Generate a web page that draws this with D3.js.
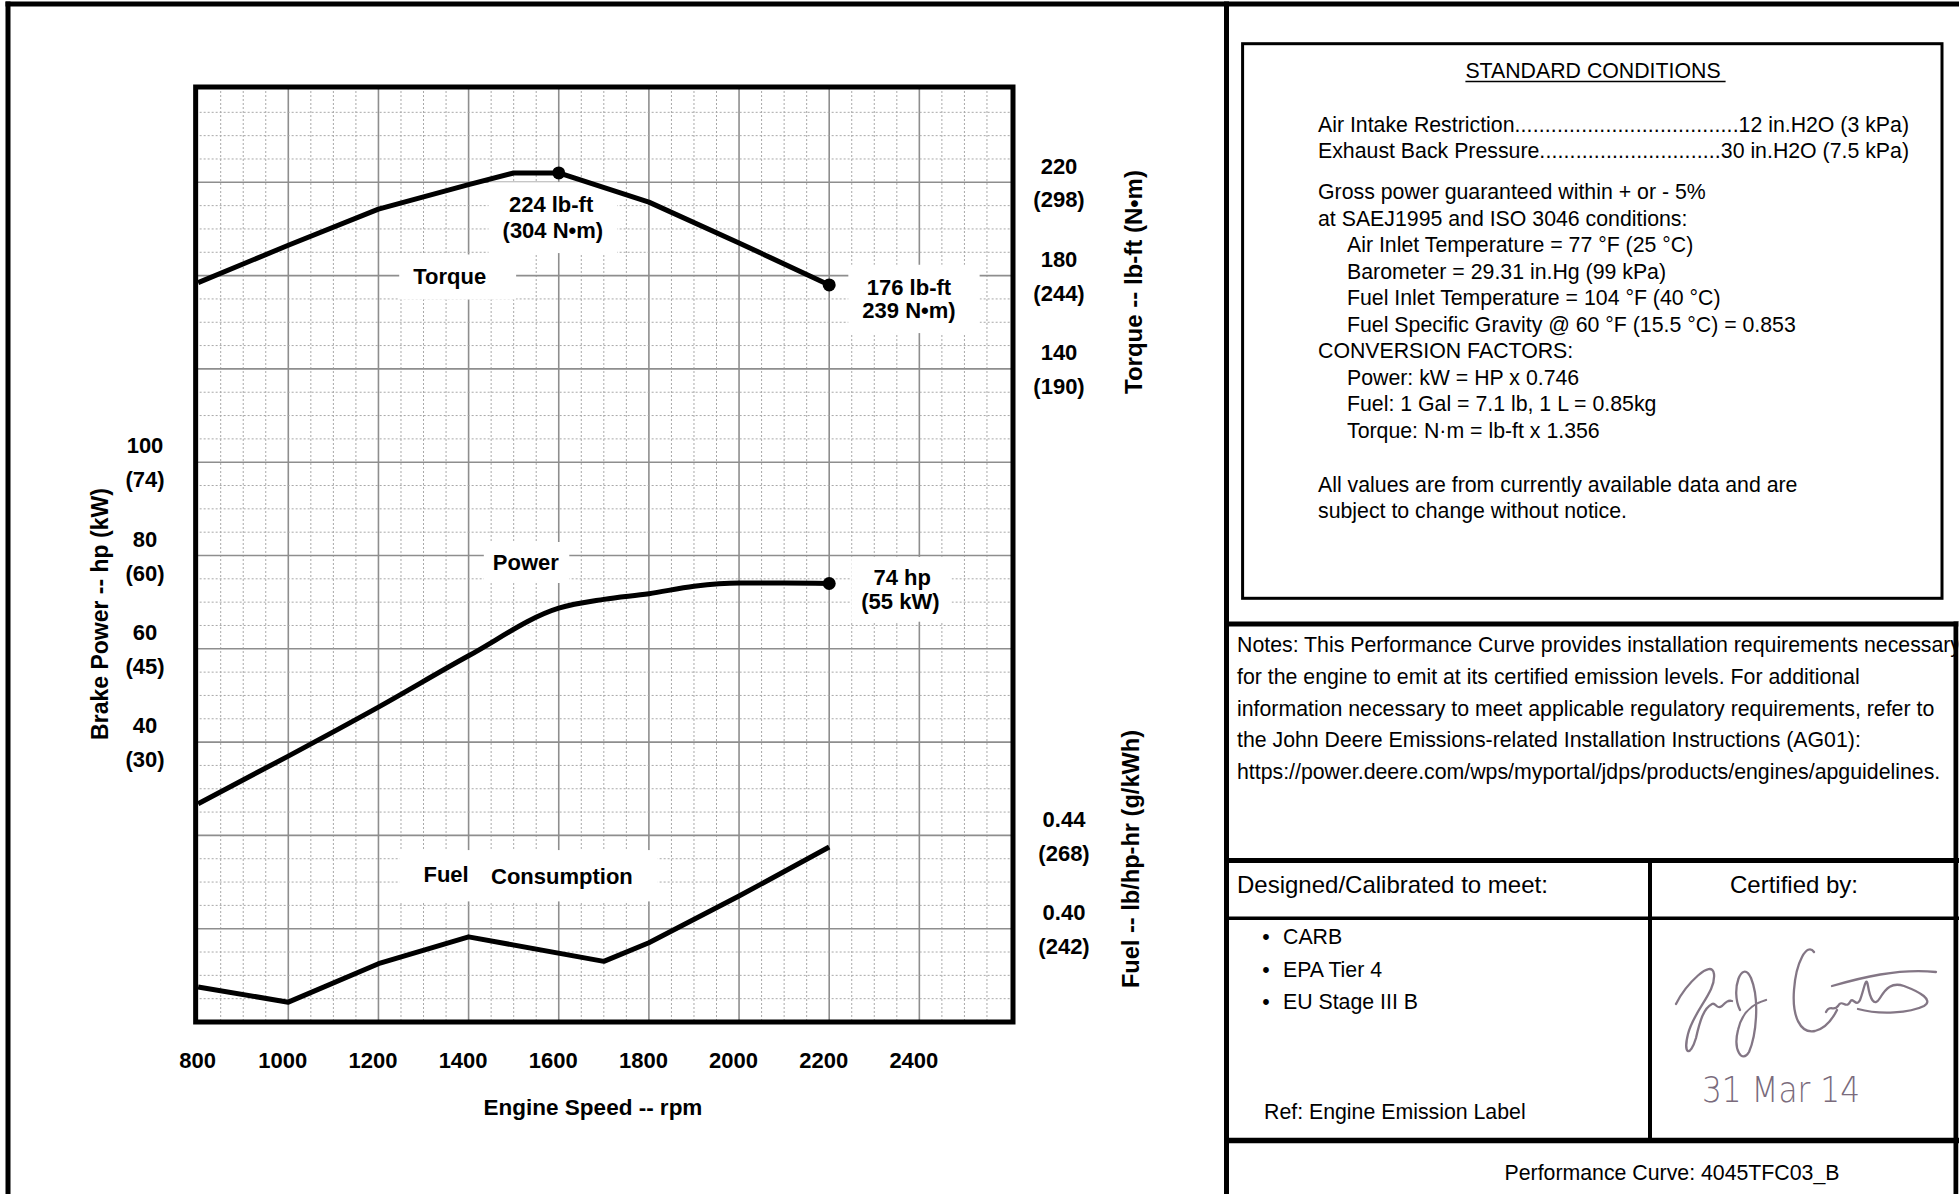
<!DOCTYPE html>
<html><head><meta charset="utf-8">
<script src="https://cdn.jsdelivr.net/npm/d3@7"></script>
<style>
html,body{margin:0;padding:0;background:#fff;overflow:hidden;}
svg{display:block;}
text{font-family:"Liberation Sans",Arial,Helvetica,sans-serif;}
</style></head><body>
<svg id="c" width="1959" height="1194"></svg>
<script>
// ---------------- DATA ----------------
const torqueRpm  = [800, 1000, 1200, 1400, 1500, 1600, 1800, 2000, 2200];
const torqueLbft = [177, 193, 208.5, 219, 224, 224, 211.5, 194, 176];
const powerRpm   = [800, 1000, 1200, 1400, 1600, 1700, 1800, 1900, 2000, 2100, 2200];
const powerHp    = [26.8, 37, 47.5, 58.5, 68.7, 70.6, 71.8, 73.4, 74.1, 74.1, 74];
const fuelRpm    = [800, 1000, 1200, 1400, 1700, 1800, 2000, 2200];
const fuelLbHpHr = [0.375, 0.3685, 0.385, 0.3965, 0.386, 0.394, 0.414, 0.435];

const rpmTicks      = [800, 1000, 1200, 1400, 1600, 1800, 2000, 2200, 2400];
const powerTicks    = [100, 80, 60, 40];
const powerTicksKw  = ["(74)", "(60)", "(45)", "(30)"];
const torqueTicks   = [220, 180, 140];
const torqueTicksNm = ["(298)", "(244)", "(190)"];
const fuelTicks     = [0.44, 0.40];
const fuelTicksG    = ["(268)", "(242)"];

const stdConditionsLeaders = [
  ["Air Intake Restriction", "12 in.H2O (3 kPa)"],
  ["Exhaust Back Pressure", "30 in.H2O (7.5 kPa)"]
];
const stdConditionsLines = [
  ["Gross power guaranteed within + or - 5%", 0],
  ["at SAEJ1995 and ISO 3046 conditions:", 0],
  ["Air Inlet Temperature = 77 °F (25 °C)", 1],
  ["Barometer = 29.31 in.Hg (99 kPa)", 1],
  ["Fuel Inlet Temperature = 104 °F (40 °C)", 1],
  ["Fuel Specific Gravity @ 60 °F (15.5 °C) = 0.853", 1],
  ["CONVERSION FACTORS:", 0],
  ["Power: kW = HP x 0.746", 1],
  ["Fuel: 1 Gal = 7.1 lb, 1 L = 0.85kg", 1],
  ["Torque: N·m = lb-ft x 1.356", 1]
];
const stdFooter = ["All values are from currently available data and are", "subject to change without notice."];
const notesLines = [
  "Notes: This Performance Curve provides installation requirements necessary",
  "for the engine to emit at its certified emission levels. For additional",
  "information necessary to meet applicable regulatory requirements, refer to",
  "the John Deere Emissions-related Installation Instructions (AG01):",
  "https://power.deere.com/wps/myportal/jdps/products/engines/apguidelines."
];
const standards = ["CARB", "EPA Tier 4", "EU Stage III B"];

// ---------------- SCALES ----------------
const svg = d3.select("#c");
const x  = d3.scaleLinear([800, 2600], [198.15, 1009.5]);
const yT = d3.scaleLinear([-140, 260], [1022, 89]);
const yP = d3.scaleLinear([-20, 180], [1022, 89]);
const yF = d3.scaleLinear([0.36, 0.76], [1022, 89]);

const boxL = x(800) - 2.5, boxR = x(2600) + 3.5, boxT = yT(260) - 2, boxB = yT(-140);

// ---------------- GRID ----------------
const grid = svg.append("g");
d3.range(800, 2601, 50).forEach(v => {
  const px = x(v);
  if (px < boxL + 4 || px > boxR - 4) return;
  const major = (v - 800) % 200 === 0;
  grid.append("line").attr("x1", px).attr("x2", px).attr("y1", boxT).attr("y2", boxB)
    .attr("stroke", major ? "#8e8e8e" : "#a8a8a8").attr("stroke-width", major ? 1.6 : 1)
    .attr("stroke-dasharray", major ? null : "2,2");
});
d3.range(-140, 261, 10).forEach(v => {
  const py = yT(v);
  if (py < boxT + 4 || py > boxB - 4) return;
  const major = (v + 140) % 40 === 0;
  grid.append("line").attr("x1", boxL).attr("x2", boxR).attr("y1", py).attr("y2", py)
    .attr("stroke", major ? "#8e8e8e" : "#a8a8a8").attr("stroke-width", major ? 1.6 : 1)
    .attr("stroke-dasharray", major ? null : "2,2");
});

// ---------------- LABELS (white backgrounds) ----------------
const bgLayer = svg.append("g");
const curveLayer = svg.append("g");
const textLayer = svg.append("g");
function chartLabel(lines, padL, padR, padY) {
  const g = textLayer.append("g");
  lines.forEach(l => {
    g.append("text").attr("x", l.x).attr("y", l.y).attr("text-anchor", "middle")
      .attr("dominant-baseline", "central").attr("font-size", 22).attr("font-weight", "bold")
      .attr("fill", "#000").text(l.t);
  });
  const b = g.node().getBBox();
  bgLayer.append("rect").attr("x", b.x - padL).attr("y", b.y - padY)
    .attr("width", b.width + padL + padR).attr("height", b.height + 2 * padY).attr("fill", "#fff");
}
chartLabel([{t: "224 lb-ft", x: x(1583), y: yT(210.4)}, {t: "(304 N•m)", x: x(1587), y: yT(199.3)}], 14, 14, 10);
chartLabel([{t: "Torque", x: x(1358), y: yT(179.4)}], 14, 30, 10);
chartLabel([{t: "176 lb-ft", x: x(2377), y: yT(175)}, {t: "239 N•m)", x: x(2377), y: yT(165)}], 14, 24, 10);
chartLabel([{t: "Power", x: x(1527), y: yP(78.5)}], 9, 10, 8);
chartLabel([{t: "74 hp", x: x(2362), y: yP(75.3)}, {t: "(55 kW)", x: x(2358), y: yP(70.2)}], 10, 12, 8);
chartLabel([{t: "Fuel", x: x(1350), y: yF(0.4232)}, {t: "Consumption", x: x(1607), y: yF(0.4222)}], 24, 25, 12);

// ---------------- CURVES ----------------
function curve(xs, ys, yScale, c) {
  const pts = xs.map((d, i) => [x(d), yScale(ys[i])]);
  curveLayer.append("path").attr("d", d3.line().curve(c || d3.curveLinear)(pts))
    .attr("fill", "none").attr("stroke", "#000").attr("stroke-width", 5)
    .attr("stroke-linejoin", "round").attr("stroke-linecap", "butt");
}
curve(torqueRpm, torqueLbft, yT);
curve(powerRpm, powerHp, yP, d3.curveMonotoneX);
curve(fuelRpm, fuelLbHpHr, yF);
const markers = [[1600, yT(224)], [2200, yT(176)], [2200, yP(74)]];
markers.forEach(m => curveLayer.append("circle").attr("cx", x(m[0])).attr("cy", m[1]).attr("r", 6.5).attr("fill", "#000"));

// ---------------- BOX ----------------
svg.append("rect").attr("x", boxL).attr("y", boxT).attr("width", boxR - boxL).attr("height", boxB - boxT)
  .attr("fill", "none").attr("stroke", "#000").attr("stroke-width", 5);

// ---------------- AXES ----------------
function styleAxis(g) {
  g.attr("font-family", '"Liberation Sans",Arial,sans-serif').attr("font-size", 22).attr("font-weight", "bold");
  g.select(".domain").remove();
  g.selectAll("line").remove();
  g.selectAll("text").attr("fill", "#000");
}
const gx = svg.append("g").attr("transform", "translate(-6,1060)")
  .call(d3.axisBottom(x).tickValues(rpmTicks).tickSize(0).tickPadding(0).tickFormat(d3.format("d")));
styleAxis(gx);
gx.selectAll("text").attr("y", 0).attr("dy", "0.35em").attr("x", d => d === 800 ? 5 : 0);

function dualAxis(axisFn, scale, ticks, fmt, secondary, cx) {
  const g = svg.append("g").attr("transform", `translate(${cx},0)`)
    .call(axisFn(scale).tickValues(ticks).tickSize(0).tickPadding(0).tickFormat(fmt));
  styleAxis(g);
  g.selectAll("text").attr("x", 0).attr("text-anchor", "middle").attr("y", -17).attr("dy", "0.35em");
  g.selectAll(".tick").append("text").attr("x", 0).attr("y", 17).attr("dy", "0.35em")
    .attr("text-anchor", "middle").attr("fill", "#000").text((d, i) => secondary[i]);
}
dualAxis(d3.axisLeft, yP, powerTicks, d3.format("d"), powerTicksKw, 145);
dualAxis(d3.axisRight, yT, torqueTicks, d3.format("d"), torqueTicksNm, 1059);
dualAxis(d3.axisRight, yF, fuelTicks, d3.format(".2f"), fuelTicksG, 1064);

function title(t, tx, ty, rot, size) {
  svg.append("text").attr("transform", `translate(${tx},${ty}) rotate(${rot})`)
    .attr("text-anchor", "middle").attr("dominant-baseline", "central")
    .attr("font-size", size).attr("font-weight", "bold").attr("fill", "#000").text(t);
}
title("Engine Speed -- rpm", 593, 1107, 0, 22.5);
title("Brake Power -- hp (kW)", 100, 614, -90, 23);
title("Torque -- lb-ft (N•m)", 1133, 282, -90, 24);
title("Fuel -- lb/hp-hr (g/kWh)", 1131, 859, -90, 23.6);

// ---------------- RIGHT PANEL TEXT ----------------
const rp = svg.append("g").attr("fill", "#000");
function rt(t, tx, ty, anchor, size) {
  return rp.append("text").attr("x", tx).attr("y", ty).attr("text-anchor", anchor || "start")
    .attr("dominant-baseline", "central").attr("font-size", size || 21.3).text(t);
}
const hdr = rt("STANDARD CONDITIONS", 1593, 71, "middle");
const hb = hdr.node().getBBox();
rp.append("line").attr("x1", hb.x).attr("x2", hb.x + hb.width + 5).attr("y1", 81.5).attr("y2", 81.5)
  .attr("stroke", "#000").attr("stroke-width", 1.6);

const leaderY = [125, 151.2];
stdConditionsLeaders.forEach((p, i) => {
  const a = rt(p[0], 1318, leaderY[i]);
  const b = rt(p[1], 1909, leaderY[i], "end");
  const x0 = 1318 + a.node().getComputedTextLength();
  const x1 = 1909 - b.node().getComputedTextLength();
  const d = rt(".", x0, leaderY[i]);
  const dw = d.node().getComputedTextLength();
  const n = Math.max(1, Math.floor((x1 - x0) / dw));
  d.text(".".repeat(n)).attr("textLength", x1 - x0).attr("lengthAdjust", "spacing");
});
const lineY0 = 192.4, lineStep = 26.5;
stdConditionsLines.forEach((l, i) => rt(l[0], l[1] ? 1347 : 1318, lineY0 + i * lineStep));
stdFooter.forEach((l, i) => rt(l, 1318, 484.7 + i * 26.4));

notesLines.forEach((l, i) => rt(l, 1237, 644.7 + i * 31.9));

rt("Designed/Calibrated to meet:", 1237, 884.6, "start", 24);
rt("Certified by:", 1794, 884.6, "middle", 24);
standards.forEach((s, i) => {
  rt("•", 1266, 937 + i * 32.5, "middle");
  rt(s, 1283, 937 + i * 32.5);
});
rt("Ref: Engine Emission Label", 1264, 1112);
rt("Performance Curve: 4045TFC03_B", 1672, 1173, "middle");

// ---------------- SIGNATURE ----------------
const sig = svg.append("g").attr("fill", "none").attr("stroke", "#6e5f70").attr("stroke-width", 2.3)
  .attr("stroke-linecap", "round").attr("stroke-linejoin", "round").attr("opacity", 0.85);
[
  "M1676,1004 C1686,984 1712,958 1714,974 C1716,992 1694,1010 1688,1034 C1683,1054 1690,1058 1696,1038 C1700,1020 1704,1008 1712,1004 C1716,1002 1716,1010 1722,1006 C1726,1002 1728,1000 1732,1001",
  "M1740,1010 C1730,990 1742,958 1751,978 C1760,1000 1756,1036 1749,1052 C1742,1064 1733,1050 1738,1030 C1742,1012 1752,1004 1766,1000",
  "M1814,952 C1807,942 1796,962 1794,990 C1792,1016 1800,1034 1815,1031 C1827,1028 1833,1018 1837,1010",
  "M1826,1012 C1830,1004 1834,1012 1838,1006 C1842,998 1846,1010 1850,1002 C1853,996 1856,1008 1860,1000 C1864,990 1866,974 1868,986 C1870,998 1874,1008 1880,998 C1886,988 1892,982 1904,986 C1920,992 1934,1000 1924,1006 C1910,1013 1880,1015 1858,1009",
  "M1832,986 C1860,978 1898,968 1936,972"
].forEach(d => sig.append("path").attr("d", d));
svg.append("text").attr("x", 1702).attr("y", 1089).attr("dominant-baseline", "central")
  .attr("font-family", '"DejaVu Sans",sans-serif').attr("font-weight", 200)
  .attr("font-size", 36).attr("fill", "#7a6b7c").attr("textLength", 158).attr("lengthAdjust", "spacingAndGlyphs")
  .style("font-family", '"DejaVu Sans",sans-serif')
  .text("31 Mar 14");

// ---------------- FRAME ----------------
const frame = svg.append("g").attr("stroke", "#000").attr("fill", "none");
frame.append("line").attr("x1", 8).attr("x2", 8).attr("y1", 1.5).attr("y2", 1194).attr("stroke-width", 5);
frame.append("line").attr("x1", 5.5).attr("x2", 1959).attr("y1", 4).attr("y2", 4).attr("stroke-width", 5);
frame.append("line").attr("x1", 1226.5).attr("x2", 1226.5).attr("y1", 1.5).attr("y2", 1194).attr("stroke-width", 5);
frame.append("rect").attr("x", 1242.6).attr("y", 43.7).attr("width", 1942 - 1242.6).attr("height", 598.3 - 43.7).attr("stroke-width", 3);
frame.append("line").attr("x1", 1224).attr("x2", 1959).attr("y1", 624).attr("y2", 624).attr("stroke-width", 5);
frame.append("line").attr("x1", 1956).attr("x2", 1956).attr("y1", 621.5).attr("y2", 1194).attr("stroke-width", 5);
frame.append("rect").attr("x", 1958.5).attr("y", 621.5).attr("width", 1).attr("height", 573).attr("fill", "#fff").attr("stroke", "none");
frame.append("line").attr("x1", 1224).attr("x2", 1959).attr("y1", 860.5).attr("y2", 860.5).attr("stroke-width", 5);
frame.append("line").attr("x1", 1650).attr("x2", 1650).attr("y1", 860).attr("y2", 1140).attr("stroke-width", 4);
frame.append("line").attr("x1", 1224).attr("x2", 1959).attr("y1", 918.3).attr("y2", 918.3).attr("stroke-width", 3.5);
frame.append("line").attr("x1", 1224).attr("x2", 1959).attr("y1", 1140.5).attr("y2", 1140.5).attr("stroke-width", 5.5);
</script>
</body></html>
